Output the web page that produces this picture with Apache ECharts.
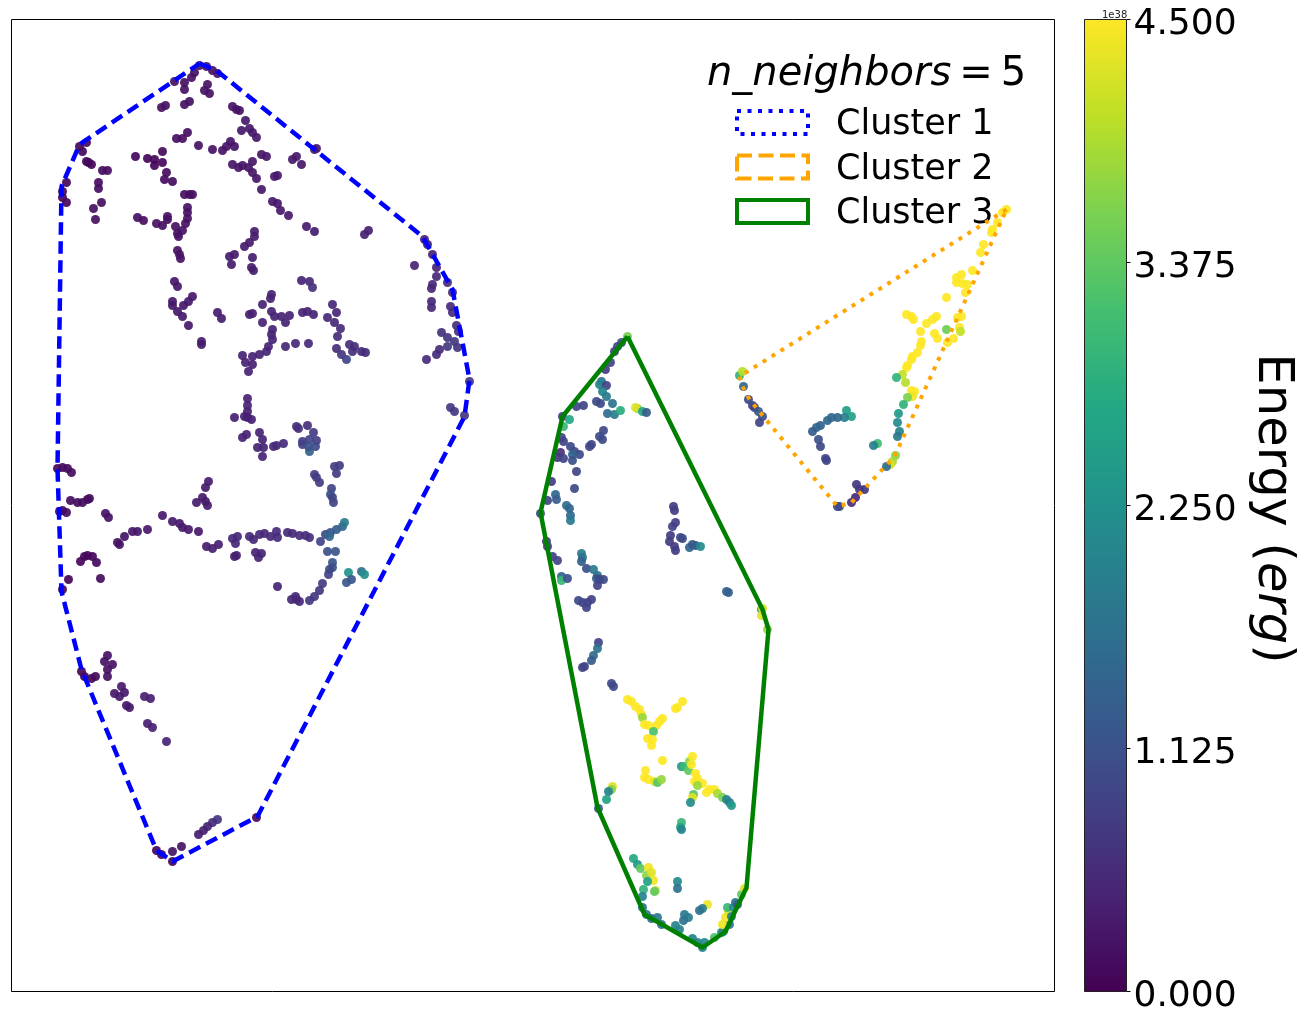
<!DOCTYPE html>
<html><head><meta charset="utf-8">
<script src="https://cdn.jsdelivr.net/npm/echarts@6/dist/echarts.min.js"></script>
<style>html,body{margin:0;padding:0;background:#fff}#c{width:1303px;height:1020px}</style>
</head><body><div id="c"></div>
<script>
// Each point: [x, y, energy in units of 1e38 erg]
const cluster1Top = [
[200,66,.2],[207,67,.2],[213,71,.22],[218,74,.25],[175,82,.2],[185,83,.2],[185,90,.2],[192,78,.2],[195,73,.2],
[208,85,.22],[205,91,.22],[210,94,.22],[162,108,.2],[166,106,.2],[185,105,.2],[190,102,.2],[233,107,.25],[237,110,.25],[240,111,.25],
[246,121,.3],[242,131,.3],[250,129,.3],[253,133,.3],[257,138,.3],[177,139,.18],[183,139,.18],[188,133,.18],
[199,146,.2],[213,150,.22],[223,151,.25],[227,147,.25],[231,142,.25],[235,147,.25],[315,150,.35],[317,149,.35],
[80,147,.1],[83,152,.1],[87,143,.1],[89,163,.08],[92,165,.08],[87,162,.08],[103,171,.15],[108,171,.15],[99,183,.15],[99,189,.15],
[102,203,.18],[94,209,.18],[96,220,.18],[67,183,.1],[63,192,.1],[63,198,.1],[67,203,.1],[136,157,.1],[148,159,.08],[155,160,.05],[155,166,.05],
[163,152,.12],[163,163,.1],[167,173,.15],[165,180,.15],[173,182,.15],[185,195,.18],[190,195,.18],[193,195,.18],[188,208,.22],[188,213,.22],
[188,219,.22],[186,224,.22],[176,227,.22],[183,231,.22],[179,237,.22],[178,234,.22],[138,218,.18],[144,221,.18],[157,224,.2],[163,226,.2],[168,217,.2],[168,220,.2],
[178,251,.25],[180,255,.25],[181,259,.25],[175,282,.28],[178,287,.28],[173,302,.3],[173,306,.3],[178,312,.3],[183,317,.3],[189,326,.3],
[193,297,.3],[189,302,.3],[184,306,.3],[202,342,.35],[202,345,.35],[218,313,.35],[222,319,.35],[250,315,.4],[253,314,.4],[263,323,.42],
[263,305,.42],[272,295,.42],[271,299,.42],[272,312,.45],[275,317,.45],[282,317,.45],[286,323,.45],[290,316,.45],[303,313,.45],[308,312,.45],[314,315,.45],
[273,330,.45],[272,335,.45],[273,340,.45],[269,347,.45],[267,352,.45],[260,355,.45],[253,357,.45],[243,356,.45],[246,363,.42],[253,365,.42],[249,372,.42],
[286,347,.5],[296,344,.5],[309,344,.5],[230,257,.35],[235,255,.35],[232,265,.35],[253,258,.35],[252,268,.35],[254,271,.35],
[255,232,.35],[255,237,.35],[250,243,.35],[245,247,.35],[307,227,.35],[315,232,.35],[365,235,.4],[369,231,.4],
[262,190,.3],[273,202,.3],[278,204,.3],[281,211,.3],[289,216,.3],[275,177,.3],[278,176,.3],[253,162,.27],[262,155,.27],[267,157,.27],
[233,165,.27],[239,168,.27],[243,166,.27],[249,168,.27],[253,173,.27],[257,179,.27],[297,157,.3],[293,160,.3],[302,165,.3],
[302,281,.45],[310,282,.5],[313,288,.65],[333,305,.5],[337,313,.5],[328,318,.5],[335,323,.5],[341,329,.55],[338,337,.55],
[337,349,.6],[342,355,.7],[347,360,.9],[350,345,.6],[355,347,.6],[353,352,.6],[362,352,.55],[366,353,.55],
[425,240,.4],[428,245,.4],[433,255,.45],[437,268,.45],[437,277,.5],[433,285,.5],[432,289,.5],[415,266,.45],
[448,283,.55],[453,293,.55],[432,302,.5],[432,308,.5],[451,307,.55],[453,313,.55],[457,326,.6],[459,332,.6],
[442,333,.65],[448,338,.7],[448,347,.75],[455,342,.75],[458,348,.7],[440,350,.55],[437,355,.55],[427,360,.55]
];
const cluster1Mid = [
[248,399,.42],[248,406,.42],[248,412,.42],[245,417,.42],[252,420,.42],[248,418,.4],[235,418,.4],[247,435,.42],[243,438,.42],
[260,433,.45],[263,440,.45],[258,448,.45],[264,448,.45],[263,457,.45],[274,447,.55],[277,446,.55],[284,444,.55],
[297,427,.6],[299,429,.6],[308,426,.6],[314,433,.8],[317,441,.85],[303,442,.85],[303,445,.85],[310,440,.9],[316,447,1],[310,452,1.4],[309,447,1.1],
[335,467,.8],[340,466,.8],[337,474,.8],[315,475,.8],[317,478,.8],[320,483,.8],[332,489,.9],[331,495,1.1],[333,498,.9],[334,503,.9],
[209,482,.35],[206,488,.35],[197,503,.35],[203,498,.35],[206,502,.35],[208,506,.35],[451,408,.75],[455,412,.75],[465,416,.7],[470,382,.7],
[58,469,.12],[63,468,.12],[68,469,.12],[72,473,.14],[71,501,.14],[78,503,.16],[83,503,.16],[88,500,.16],[90,499,.16],[60,512,.12],[63,511,.12],[67,513,.14],
[106,514,.2],[109,518,.2],[120,545,.22],[125,537,.25],[133,532,.28],[138,532,.28],[148,530,.3],[118,543,.22],[163,516,.3],[173,522,.3],[180,524,.3],[183,528,.3],[189,530,.3],[199,532,.3],
[207,547,.35],[213,549,.38],[219,545,.38],[233,539,.5],[238,537,.5],[236,544,.5],[235,557,.4],[237,556,.4],
[250,537,.5],[254,540,.5],[260,535,.5],[265,534,.5],[271,537,.55],[277,532,.55],[278,538,.55],[288,533,.55],[293,534,.55],[300,536,.55],[306,536,.6],[310,538,.6],
[256,553,.45],[262,554,.45],[259,558,.45],[321,542,.9],[326,535,1],[331,533,1.2],[337,530,1.3],[343,527,1.5],[345,523,1.8],[330,537,1.5],
[328,552,1.1],[336,552,1.2],[333,563,1.2],[333,568,1.1],[330,570,1],[329,575,.9],[349,573,2.3],[362,572,1.7],[365,575,2.2],[352,580,1.2],[347,583,1.2],
[323,584,.8],[320,591,.7],[315,597,.7],[310,601,.7],[278,587,.45],[297,600,.5],[292,600,.5],[300,602,.5],[296,597,.5],
[85,557,.1],[93,557,.1],[81,562,.1],[97,563,.12],[88,556,.1],[101,579,.15],[69,580,.08],[63,590,.1]
];
const cluster1Low = [
[108,656,.22],[105,662,.22],[113,665,.22],[108,670,.22],[108,677,.2],[82,672,.1],[85,677,.1],[92,679,.1],[96,677,.12],
[122,687,.3],[125,693,.3],[115,694,.28],[120,697,.3],[127,706,.3],[130,708,.3],[145,697,.4],[151,699,.4],[148,724,.4],[153,728,.4],[167,742,.45],
[218,820,.7],[213,823,.55],[208,827,.45],[204,831,.4],[199,835,.35],[182,847,.25],[173,852,.25],[157,851,.08],[162,855,.08],[173,862,.1],[257,818,.15]
];
const cluster2Points = [
[1007,210,4.5],[1003,213,4.5],[998,223,4.5],[993,230,4.5],[992,233,4.5],[984,245,4.5],[981,253,4.5],[973,271,4.5],[962,275,4.5],[957,278,4.5],[957,283,4.5],
[963,284,4.5],[968,285,4.5],[966,293,4.5],[947,298,4.5],[907,315,4.5],[912,317,4.5],[914,320,4.5],[937,317,4.5],[933,320,4.5],[927,324,4.5],[921,332,4.5],
[935,334,4.5],[938,339,4.5],[947,330,3.5],[958,318,4.5],[962,317,4.5],[960,328,4.5],[961,332,4.1],[954,339,4.5],[948,343,4.5],[922,342,4.5],[921,346,4.5],
[918,353,4.5],[913,357,4.5],[912,360,4.5],[908,366,4.5],[907,368,4.5],[903,375,4.1],[897,378,2.9],[906,383,4],[912,391,4.5],[915,392,4.5],[913,397,4.4],[908,398,3.6],
[904,405,2.9],[899,414,2.4],[898,423,2.1],[900,432,2],[898,437,1.8],[878,444,3.1],[874,446,1.9],[896,456,3.7],[893,462,3.9],[891,465,4.2],[887,467,1.6],
[740,376,2.9],[743,372,4],[744,387,1.5],[749,400,1],[753,406,.9],[755,408,.9],[759,412,1.2],[763,417,1.1],[760,423,.9],
[847,411,2.5],[852,417,2.6],[845,418,1.9],[838,418,1.5],[832,418,1.5],[828,421,1.5],[821,426,1.4],[817,428,1.5],[813,432,1.3],[819,440,1.1],[821,447,1],[826,459,.9],[827,461,.9],
[857,485,.7],[860,490,.7],[865,490,.7],[856,498,.5],[852,503,.6],[840,507,1],[838,507,1]
];
const cluster3Upper = [
[628,337,3.6],[622,343,1.1],[618,347,.9],[615,352,.9],[611,363,.9],[606,370,.8],[602,382,1.7],[600,385,2],[607,386,.9],[603,392,2],[607,397,1.8],
[584,406,.9],[577,407,.9],[597,402,1],[601,404,1],[613,404,1.7],[608,414,1.6],[615,415,1.9],[621,411,2.8],[638,409,3.7],[636,408,4.3],[643,412,2.7],[647,413,1.3],
[563,417,.8],[570,420,2.7],[564,427,3],[604,431,1],[600,437,1],[603,440,1],[592,445,.9],[590,447,.9],[562,438,.9],[564,442,.9],[571,447,1],[575,452,1],[580,455,1],
[573,455,1.5],[573,461,1.1],[561,453,.6],[558,458,.7],[564,459,.9],[577,472,.9],[575,489,1],[552,482,.8],[556,495,1.5],[557,500,1.3],[548,501,.9],[541,514,1],
[567,506,1.6],[570,509,1.5],[571,516,1.5],[571,521,1.8],[674,507,.8],[675,511,.8],[676,523,.85],[673,527,.85],[671,536,.8],[670,542,.8],[675,547,.8],[676,551,.8],[681,538,1],[683,539,1],
[690,548,1.5],[693,545,1.2],[696,546,1.3],[701,547,2.1],[547,542,.8],[548,547,.8],[553,557,.9],[558,561,.9],[582,554,1.9],[583,558,1.7],[582,562,1.4],[587,569,1.1],
[594,570,1.8],[598,576,1.7],[597,579,1.2],[600,580,1],[604,580,1],[598,586,.9],[562,577,1.4],[562,581,3],[568,579,1.1],[579,601,1],[583,603,1],[587,608,.9],[592,600,.9],[588,603,.9],
[727,592,1.4],[729,593,1.4],[762,610,2.4],[763,609,4.2],[762,616,4.3],[768,630,3.8]
];
const cluster3Lower = [
[599,643,.9],[598,649,1.7],[594,656,1.6],[592,661,1.3],[585,667,.9],[583,668,.9],[612,684,1],[614,687,1],
[628,700,4.5],[632,702,4.5],[636,707,4.5],[640,710,4.5],[642,715,4.5],[643,718,3.8],[645,725,4.5],[649,726,4.5],[663,719,4.5],[660,722,4.5],[657,726,4.5],[654,732,3.2],
[648,739,4.5],[653,740,4.5],[652,746,4.5],[683,702,4.5],[678,708,4.5],[676,709,4.5],[663,761,4.5],[646,771,4.5],[645,778,4.5],[649,780,4.5],[655,782,4.3],[658,783,3.3],[662,780,3.8],
[682,767,2.4],[685,767,3],[689,771,3.4],[690,762,3.7],[693,757,4.5],[692,765,4.5],[696,774,4.5],[698,779,4.5],[695,782,4.5],[703,784,4.5],[698,786,3.8],[694,795,3.3],[693,798,4.3],[691,803,2.2],
[707,793,4.5],[710,790,4.5],[715,790,4.5],[718,794,3.9],[723,798,3.6],[727,800,2],[730,803,1.9],[732,806,2.4],[613,787,4.3],[612,790,3.7],[609,792,2],[607,800,2.6],[599,809,1.2],
[682,823,3],[681,828,2.6],[682,830,2],[634,859,2.7],[638,865,2.4],[641,869,3.4],[649,868,4.4],[647,876,3.7],[652,873,4.3],[654,881,4.4],[648,882,2.6],[656,891,4.2],[655,892,3.4],[644,890,2.9],
[678,882,2.1],[678,889,1.7],[643,897,2],[643,908,1.7],[647,915,1.8],[652,919,1.6],[658,918,1.8],[662,925,1.7],[708,905,4.4],[703,909,1.9],[700,911,1.7],[685,915,1.8],[689,918,1.9],[684,921,1.7],
[676,926,2],[680,930,2],[693,939,2],[698,943,2],[703,948,2],[705,943,2.1],[715,938,3.2],[722,933,2.2],[724,932,2],[730,925,1.8],[723,925,4.4],[726,918,4.4],[729,912,4.3],[728,908,3],[732,917,2],
[734,908,2.2],[736,903,1.8],[738,905,1.2],[742,895,3.4],[745,889,4.3]
];
const hull1 = [[200,64],[217,71],[423,237],[453,290],[470,380],[465,417],[258,817],[173,862],[157,851],[82,670],[62,592],[58,469],[62,187],[80,145],[200,64]];
const hull2 = [[1007,210],[740,377],[743,387],[750,400],[838,507],[852,503],[895,457],[1007,210]];
const hull3 = [[628,337],[563,417],[541,513],[598,808],[645,915],[703,948],[726,932],[747,888],[769,630],[763,610],[628,337]];
const clusterNames = ['Cluster 1','Cluster 2','Cluster 3'];
const colorbarTicks = [0, 1.125, 2.25, 3.375, 4.5];
const colorbarMax = 4.5;
const viridis = ['#440154','#482475','#414487','#355f8d','#2a788e','#21918c','#22a884','#44bf70','#7ad151','#bddf26','#fde725'];

const font = 'DejaVu Sans';
const chart = echarts.init(document.getElementById('c'));
const allPoints = [].concat(cluster1Top, cluster1Mid, cluster1Low, cluster2Points, cluster3Upper, cluster3Lower);
function hull(name, data, color, type, width){
  return {name, type:'line', data, xAxisIndex:0, yAxisIndex:0, showSymbol:false, symbol:'none', silent:true, z:5,
    lineStyle:{color, width, type, cap:'butt', join:'round'}};
}
chart.setOption({
  animation:false,
  backgroundColor:'#fff',
  title:{
    left:702, top:50,
    text:'{i|n_neighbors}{r|=}{r2|5}',
    textStyle:{fontWeight:'normal',rich:{
      i:{fontFamily:font,fontStyle:'italic',fontWeight:'normal',fontSize:40,color:'#000'},
      r:{fontFamily:font,fontWeight:'normal',fontSize:40,color:'#000',padding:[0,8,0,8]},
      r2:{fontFamily:font,fontWeight:'normal',fontSize:40,color:'#000'}}}
  },
  legend:{
    left:730, top:102.5, orient:'vertical', itemWidth:71, itemHeight:23, itemGap:9.5, selectedMode:false,
    formatter:n=>'{t|'+n+'}{s| }',
    textStyle:{fontFamily:font,fontSize:35,color:'#000',rich:{
      t:{fontFamily:font,fontSize:35,color:'#000',lineHeight:35,verticalAlign:'bottom',padding:[0,0,0,23]},
      s:{fontSize:1,lineHeight:40}}},
    data:[
      {name:clusterNames[0],icon:'rect',itemStyle:{color:'rgba(0,0,0,0)',borderColor:'#0000ff',borderWidth:4,borderType:[4,6.5]},lineStyle:{opacity:0}},
      {name:clusterNames[1],icon:'rect',itemStyle:{color:'rgba(0,0,0,0)',borderColor:'#ffa500',borderWidth:4,borderType:[15,6.5]},lineStyle:{opacity:0}},
      {name:clusterNames[2],icon:'rect',itemStyle:{color:'rgba(0,0,0,0)',borderColor:'#008000',borderWidth:4,borderType:'solid'},lineStyle:{opacity:0}}
    ]
  },
  grid:[
    {left:11.5,top:19.5,width:1043,height:972,show:true,borderColor:'#000',borderWidth:1,backgroundColor:'#fff',outerBoundsMode:'none'},
    {left:1084.5,top:19.5,width:42,height:972,show:true,borderColor:'#222',borderWidth:1,z:6,outerBoundsMode:'none'}
  ],
  xAxis:[
    {type:'value',gridIndex:0,min:12,max:1055,show:false},
    {type:'category',gridIndex:1,data:['Energy'],show:false}
  ],
  yAxis:[
    {type:'value',gridIndex:0,min:20,max:992,inverse:true,show:false},
    {type:'value',gridIndex:1,min:0,max:colorbarMax,interval:1.125,position:'right',
     axisLine:{show:false},splitLine:{show:false},
     axisTick:{show:true,length:4,lineStyle:{color:'#000',width:1}},
     axisLabel:{margin:7,fontFamily:font,fontSize:36,color:'#000',verticalAlign:'top',lineHeight:11,
       formatter:v=>v.toFixed(3),showMinLabel:true,showMaxLabel:true},
     name:'{r|Energy (}{i|erg}{r|)}',nameLocation:'middle',nameRotate:-90,nameGap:120,
     nameTextStyle:{padding:[0,0,0,6],rich:{r:{fontFamily:font,fontSize:49.5,color:'#000'},i:{fontFamily:font,fontStyle:'italic',fontSize:49.5,color:'#000'}}}
    }
  ],
  visualMap:{show:false,seriesIndex:0,dimension:2,min:0,max:colorbarMax,inRange:{color:viridis}},
  graphic:[{type:'text',left:1102,top:10,z:10,style:{text:'1e38',fontFamily:font,fontSize:10,fill:'#222'}}],
  series:[
    {name:'points',type:'scatter',data:allPoints,xAxisIndex:0,yAxisIndex:0,symbolSize:9,itemStyle:{opacity:0.92},silent:true,z:2},
    hull(clusterNames[0],hull1,'#0000ff',[12.5,6.5],4.5),
    hull(clusterNames[1],hull2,'#ffa500',[4,6.5],4),
    hull(clusterNames[2],hull3,'#008000','solid',4.5),
    {name:'colorbar',type:'bar',xAxisIndex:1,yAxisIndex:1,data:[colorbarMax],barWidth:'100%',silent:true,z:3,
     itemStyle:{color:new echarts.graphic.LinearGradient(0,1,0,0,viridis.map((c,i)=>({offset:i/(viridis.length-1),color:c})))}}
  ]
});
</script></body></html>
